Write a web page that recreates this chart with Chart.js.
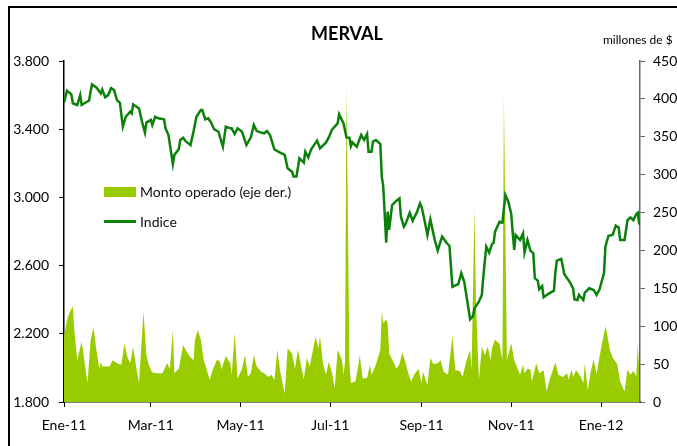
<!DOCTYPE html>
<html>
<head>
<meta charset="utf-8">
<script src="https://cdn.jsdelivr.net/npm/chart.js@4.4.1/dist/chart.umd.min.js"></script>
<style>
  body { margin: 0; background: #fff; overflow: hidden; font-family: Lato, "Open Sans", sans-serif; }
  #wrap { position: relative; width: 677px; height: 446px; }
  #frame { position: absolute; left: 8px; top: 6px; width: 720px; height: 480px; border-left: 2px solid #000; border-top: 2px solid #000; }
  #title { position: absolute; left: 247px; width: 200px; top: 22px; text-align: center; font-weight: bold; font-size: 18px; color: #000; }
  #units { position: absolute; left: 603px; top: 32px; font-size: 12px; color: #000; }
  .leg { position: absolute; left: 140px; font-size: 14px; color: #111; line-height: 16px; }
  .sw { position: absolute; left: 104px; }
</style>
</head>
<body>
<div id="wrap">
  <div id="frame"></div>
  <canvas id="c" width="677" height="446"></canvas>
  <div id="title">MERVAL</div>
  <div id="units">millones de $</div>
  <div class="sw" style="top:187px;width:32px;height:10px;background:#99cc00"></div>
  <div class="leg" style="top:184px">Monto operado (eje der.)</div>
  <div class="sw" style="top:220px;width:32px;height:3px;background:#0b800b"></div>
  <div class="leg" style="top:214px">Indice</div>
</div>
<script>
// x = days since 1 Jan 2011
var tickDays = [0, 59, 120, 181, 243, 304, 365];
var tickLabels = ["Ene-11", "Mar-11", "May-11", "Jul-11", "Sep-11", "Nov-11", "Ene-12"];

var indexDays = [
  0,2,5,6,9,11,12,15,17,19,
  22,25,26,28,30,32,34,36,38,40,
  42,45,46,47,51,53,55,56,59,60,
  62,64,68,69,71,74,75,78,79,81,
  83,86,88,90,93,94,96,98,100,102,
  105,108,110,113,114,116,118,121,124,127,
  129,131,134,136,138,140,143,147,150,152,
  155,156,158,160,163,164,166,168,172,174,
  178,180,182,184,186,187,190,192,194,195,
  196,199,202,204,206,207,209,210,212,215,
  216,217,219,220,221,223,226,228,229,231,
  232,235,237,240,242,243,245,247,249,252,
  254,257,260,262,264,268,270,272,274,276,
  278,279,282,284,285,287,289,291,292,293,
  296,298,299,300,302,304,305,306,307,310,
  312,313,315,317,319,320,322,323,325,326,
  329,333,334,335,338,340,344,346,347,349,
  350,353,354,357,360,362,364,367,368,370,
  373,375,377,378,381,383,385,387,389,390,
  391
];
var indexValues = [
  3555,3626,3604,3552,3542,3600,3542,3558,3567,3663,
  3645,3610,3633,3587,3600,3641,3630,3571,3555,3415,
  3473,3503,3493,3546,3522,3444,3380,3439,3454,3425,
  3473,3464,3458,3405,3366,3196,3249,3282,3337,3350,
  3327,3307,3385,3473,3512,3512,3458,3464,3439,3400,
  3385,3297,3415,3405,3405,3372,3405,3385,3307,3352,
  3425,3389,3380,3376,3389,3366,3282,3262,3249,3171,
  3151,3122,3122,3229,3204,3268,3235,3282,3333,3288,
  3321,3352,3395,3415,3434,3487,3434,3352,3350,3301,
  3323,3297,3366,3337,3372,3268,3268,3327,3337,3313,
  3122,3063,2734,2916,2809,2955,2981,2994,2887,2828,
  2842,2910,2863,2916,2965,2946,2867,2779,2871,2750,
  2688,2770,2734,2715,2476,2492,2555,2506,2398,2285,
  2304,2349,2388,2428,2535,2711,2676,2727,2734,2799,
  2857,2852,2936,3014,2975,2903,2789,2692,2779,2750,
  2789,2676,2750,2688,2672,2526,2512,2461,2480,2414,
  2433,2453,2564,2629,2639,2551,2500,2467,2402,2398,
  2428,2398,2441,2467,2457,2428,2461,2555,2711,2774,
  2781,2834,2824,2750,2750,2867,2883,2867,2903,2910,
  2840
];

var volDays = [
  0,2,4,6,7,9,12,16,18,20,
  22,24,25,26,31,33,37,39,41,43,
  45,47,49,51,54,56,58,60,63,67,
  70,72,74,75,78,81,85,88,89,91,
  93,95,97,99,101,104,106,107,110,113,
  114,116,118,121,123,125,127,129,131,134,
  136,139,141,143,145,147,150,152,155,157,
  159,163,165,167,171,173,174,176,178,180,
  182,184,186,189,190,191,192,194,195,198,
  200,201,203,206,208,209,212,215,216,217,
  219,220,221,224,226,228,230,232,234,236,
  238,241,243,244,247,249,251,254,256,258,
  261,264,266,269,271,273,276,277,279,280,
  282,284,286,288,290,291,293,296,298,299,
  301,304,306,310,312,313,315,317,318,321,
  323,326,328,330,334,336,339,342,343,345,
  346,348,351,353,354,356,358,360,362,364,
  368,369,371,373,376,378,381,383,385,387,
  389,390,391
];
var volValues = [
  86,108,119,126,95,55,80,25,80,99,
  69,44,53,47,47,55,50,49,77,60,
  51,73,47,25,119,62,47,39,38,38,
  51,44,95,38,44,75,61,55,82,95,
  82,55,43,29,42,56,53,43,61,51,
  36,91,31,44,62,33,38,62,47,40,
  38,33,36,29,69,40,11,71,64,44,
  69,30,58,47,86,71,87,51,36,53,
  40,18,69,55,36,53,416,51,25,27,
  47,62,31,32,49,36,49,69,120,104,
  109,104,64,52,44,50,65,53,38,27,
  36,44,25,40,22,58,50,51,55,40,
  36,87,42,41,33,51,69,42,255,130,
  29,73,62,73,55,72,82,77,55,405,
  55,78,55,36,49,38,44,43,27,51,
  38,42,14,29,52,36,33,38,29,43,
  33,42,34,25,51,16,40,56,37,60,
  100,91,69,58,50,27,14,43,36,41,
  34,77,38
];

function pts(xs, ys) {
  return xs.map(function (x, i) { return { x: x, y: ys[i] }; });
}
function miles(v) {
  return String(v).replace(/\B(?=(\d{3})+(?!\d))/g, ".");
}

var tickFont = { family: "Lato, 'Open Sans', sans-serif", size: 14 };

new Chart(document.getElementById("c"), {
  type: "line",
  data: {
    datasets: [{
      label: "Indice",
      data: pts(indexDays, indexValues),
      yAxisID: "y",
      borderColor: "#0b800b",
      borderWidth: 2.5,
      pointRadius: 0,
      fill: false,
      tension: 0,
      order: 0
    }, {
      label: "Monto operado (eje der.)",
      data: pts(volDays, volValues),
      yAxisID: "y1",
      borderWidth: 0,
      backgroundColor: "#99cc00",
      pointRadius: 0,
      fill: "origin",
      tension: 0,
      order: 1
    }]
  },
  options: {
    responsive: false,
    animation: false,
    layout: { padding: { top: 61, left: 0, right: 0, bottom: 0 } },
    plugins: { legend: { display: false }, tooltip: { enabled: false }, title: { display: false } },
    scales: {
      x: {
        type: "linear",
        min: 0,
        max: 391.5,
        afterBuildTicks: function (s) { s.ticks = tickDays.map(function (d) { return { value: d }; }); },
        afterFit: function (s) { s.height = 44; },
        ticks: {
          autoSkip: false,
          maxRotation: 0,
          padding: 10,
          color: "#000",
          font: tickFont,
          callback: function (v, i) { return tickLabels[i]; }
        },
        grid: { drawOnChartArea: false, tickLength: 5, color: "#000" },
        border: { color: "#000", width: 1.5 }
      },
      y: {
        position: "left",
        min: 1800,
        max: 3800,
        afterFit: function (s) { s.width = 64; },
        ticks: { stepSize: 400, padding: 10, color: "#000", font: tickFont, callback: miles },
        grid: { drawOnChartArea: false, tickLength: 5, color: "#000" },
        border: { color: "#000", width: 1.5 }
      },
      y1: {
        position: "right",
        min: 0,
        max: 450,
        afterFit: function (s) { s.width = 37; },
        ticks: { stepSize: 50, padding: 8, color: "#000", font: tickFont },
        grid: { drawOnChartArea: false, tickLength: 5, color: "#666" },
        border: { color: "#666", width: 1.5 }
      }
    }
  }
});
</script>
</body>
</html>
